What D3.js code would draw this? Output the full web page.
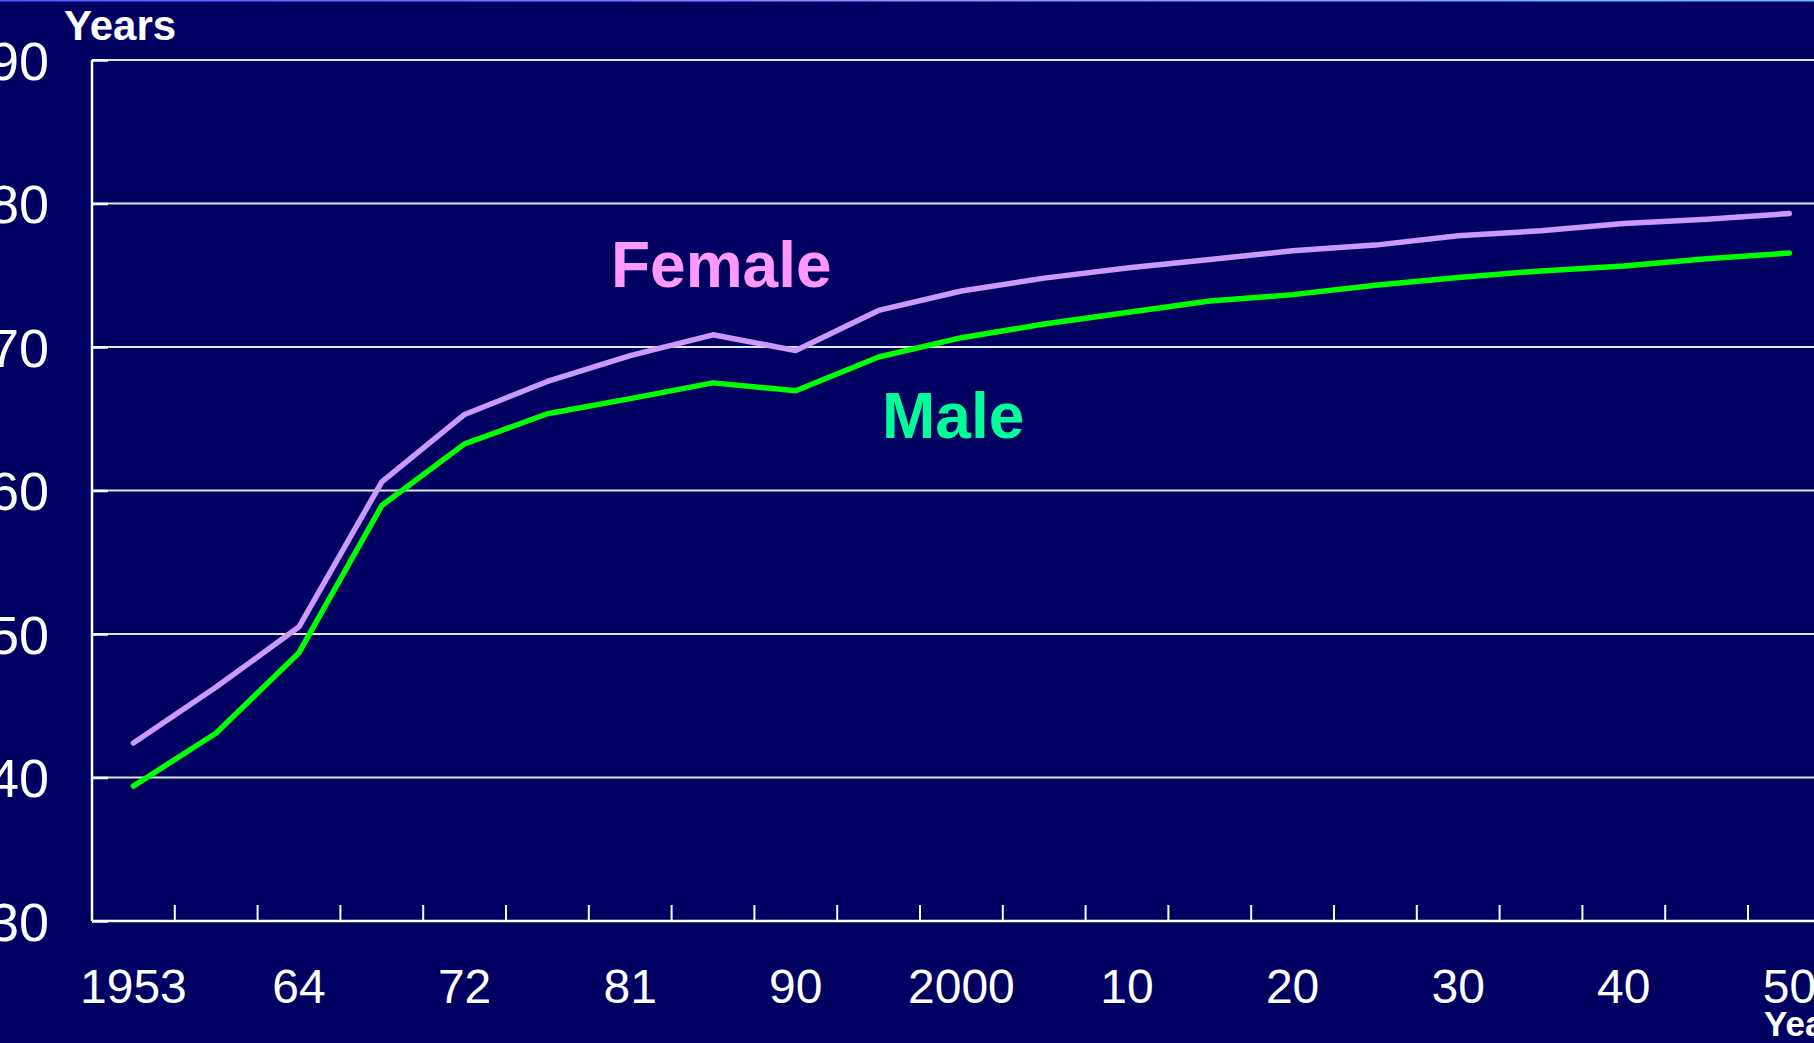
<!DOCTYPE html>
<html>
<head>
<meta charset="utf-8">
<script src="https://cdn.jsdelivr.net/npm/d3@7"></script>
<style>
  html, body { margin: 0; padding: 0; background: #000062; overflow: hidden; }
  svg { display: block; font-family: "Liberation Sans", Arial, sans-serif; }
</style>
</head>
<body>
<div class="canvas"></div>
<script>
// categories (x axis) - only every second one carries a label
const years = [1953, 1957, 1964, 1968, 1972, 1976, 1981, 1985, 1990, 1995,
               2000, 2005, 2010, 2015, 2020, 2025, 2030, 2035, 2040, 2045, 2050];
const xLabels = ["1953", "64", "72", "81", "90", "2000", "10", "20", "30", "40", "50"];
const yTicks = [30, 40, 50, 60, 70, 80, 90];

// life expectancy, years
const female = [42.4, 46.3, 50.5, 60.6, 65.3, 67.6, 69.4, 70.85, 69.75, 72.55,
                73.9, 74.8, 75.5, 76.1, 76.7, 77.1, 77.75, 78.1, 78.6, 78.9, 79.3];
const male = [39.4, 43.1, 48.7, 58.95, 63.25, 65.35, 66.4, 67.5, 66.95, 69.3,
              70.65, 71.6, 72.4, 73.2, 73.65, 74.3, 74.85, 75.3, 75.65, 76.15, 76.55];

const W = 1814, H = 1043;
const margin = { top: 60, left: 92 };
const bandW = 82.8;
const plotH = 861;

const svg = d3.select('.canvas')
  .append('svg')
    .attr('width', W)
    .attr('height', H);

// thin gradient strip on the very top edge
const grad = svg.append('defs').append('linearGradient').attr('id', 'topline');
grad.append('stop').attr('offset', '0%').attr('stop-color', '#4a5cff');
grad.append('stop').attr('offset', '50%').attr('stop-color', '#9a86ff');
grad.append('stop').attr('offset', '100%').attr('stop-color', '#5fc0ff');
svg.append('rect')
  .attr('x', 0).attr('y', 0)
  .attr('width', W).attr('height', 1.5)
  .attr('fill', 'url(#topline)');

const graph = svg.append('g')
  .attr('transform', `translate(${margin.left}, ${margin.top})`);

const x = d3.scaleBand()
  .domain(years)
  .range([0, bandW * years.length])
  .padding(0);

const y = d3.scaleLinear()
  .domain([30, 90])
  .range([plotH, 0]);

//gridlines
graph.append('g')
  .attr('class', 'grid')
  .selectAll('line')
  .data(yTicks.slice(1))
  .enter().append('line')
    .attr('x1', 0)
    .attr('x2', W)
    .attr('y1', d => y(d))
    .attr('y2', d => y(d))
    .attr('stroke', '#e4e4ee')
    .attr('stroke-width', 2);

//y axis
const yAxis = d3.axisLeft(y)
  .tickValues(yTicks)
  .tickSize(-16)
  .tickPadding(43);

const yAxisGroup = graph.append('g')
  .attr('class', 'y-axis')
  .call(yAxis);

yAxisGroup.select('.domain').remove();
yAxisGroup.selectAll('line')
  .attr('stroke', '#fff')
  .attr('stroke-width', 2.5);
yAxisGroup.selectAll('text')
  .attr('fill', '#fff')
  .attr('font-size', '54px')
  .attr('dy', '0.36em')
  .attr('font-family', '"Liberation Sans", Arial, sans-serif');

graph.append('line')
  .attr('x1', 0).attr('x2', 0)
  .attr('y1', y(90)).attr('y2', y(30))
  .attr('stroke', '#fff')
  .attr('stroke-width', 2.5);

//x axis: base line, ticks between categories, labels on every other category
const xAxisGroup = graph.append('g')
  .attr('class', 'x-axis')
  .attr('transform', `translate(0, ${plotH})`);

xAxisGroup.append('line')
  .attr('x1', 0).attr('x2', W)
  .attr('stroke', '#fff')
  .attr('stroke-width', 2.5);

xAxisGroup.selectAll('line.tick')
  .data(years.slice(1))
  .enter().append('line')
    .attr('class', 'tick')
    .attr('x1', d => x(d))
    .attr('x2', d => x(d))
    .attr('y1', 0)
    .attr('y2', -16)
    .attr('stroke', '#fff')
    .attr('stroke-width', 2);

const labelYears = years.filter((d, i) => i % 2 === 0);
const xAxis = d3.axisBottom(x)
  .tickValues(labelYears)
  .tickSize(0)
  .tickPadding(48)
  .tickFormat((d, i) => xLabels[i]);

const xLabelGroup = graph.append('g')
  .attr('transform', `translate(0, ${plotH})`)
  .call(xAxis);
xLabelGroup.select('.domain').remove();
xLabelGroup.selectAll('text')
  .attr('fill', '#fff')
  .attr('font-size', '48px')
  .attr('letter-spacing', '0px')
  .attr('font-family', '"Liberation Sans", Arial, sans-serif');

//lines
const line = d3.line()
  .x((d, i) => x(years[i]) + x.bandwidth() / 2)
  .y(d => y(d));

graph.append('path')
  .datum(female)
  .attr('fill', 'none')
  .attr('stroke', '#cc99ff')
  .attr('stroke-width', 5.5)
  .attr('stroke-linecap', 'round')
  .attr('stroke-linejoin', 'round')
  .attr('d', line);

graph.append('path')
  .datum(male)
  .attr('fill', 'none')
  .attr('stroke', '#00ff00')
  .attr('stroke-width', 5.5)
  .attr('stroke-linecap', 'round')
  .attr('stroke-linejoin', 'round')
  .attr('d', line);

//series labels
svg.append('text')
  .attr('x', 611)
  .attr('y', 287)
  .attr('fill', '#ff99ff')
  .attr('font-size', '64px')
  .attr('font-weight', 'bold')
  .text('Female');

svg.append('text')
  .attr('x', 882)
  .attr('y', 438)
  .attr('fill', '#00ff99')
  .attr('font-size', '64px')
  .attr('font-weight', 'bold')
  .text('Male');

//axis titles
svg.append('text')
  .attr('x', 64)
  .attr('y', 40)
  .attr('fill', '#fff')
  .attr('font-size', '42px')
  .attr('font-weight', 'bold')
  .text('Years');

svg.append('text')
  .attr('x', 1764)
  .attr('y', 1036)
  .attr('fill', '#fff')
  .attr('font-size', '35px')
  .attr('font-weight', 'bold')
  .text('Years');
</script>
</body>
</html>
